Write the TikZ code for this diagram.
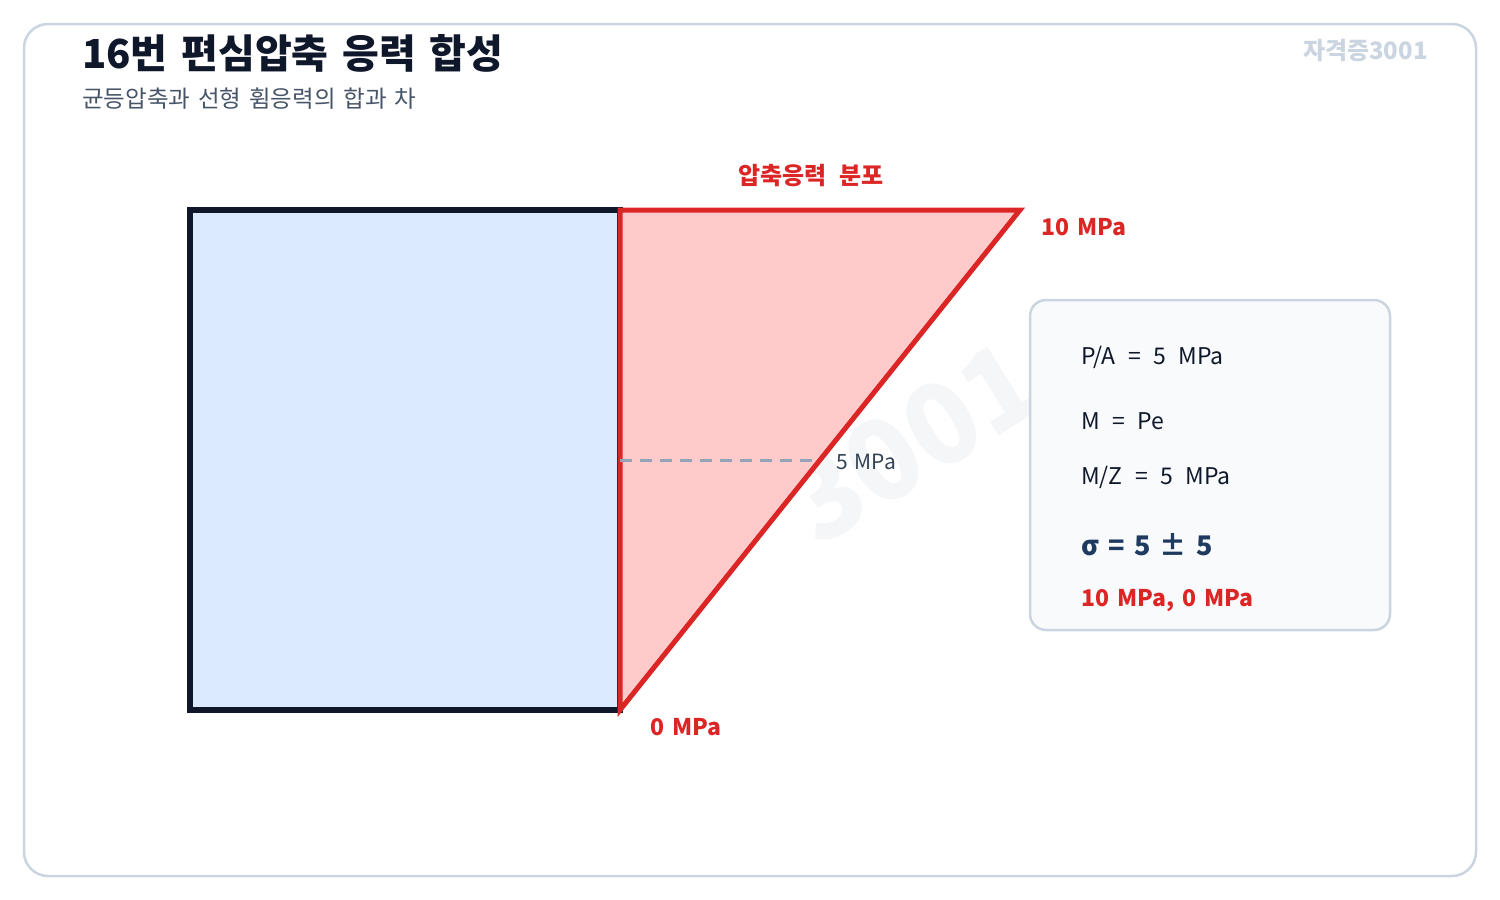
\documentclass[tikz,border=0pt]{standalone}
\usepackage{fontspec}
\setmainfont{Noto Sans CJK KR}[WordSpace=2.4]
\newfontfamily\tightsp{Noto Sans CJK KR}[WordSpace=1.5]
\definecolor{ink}{HTML}{0F172A}
\definecolor{subgray}{HTML}{475569}
\definecolor{frame}{HTML}{CBD5E1}
\definecolor{wmark}{HTML}{F4F6F8}
\definecolor{secfill}{HTML}{DBEAFE}
\definecolor{strred}{HTML}{DC2626}
\definecolor{strfill}{HTML}{FECACA}
\definecolor{dashgray}{HTML}{94A3B8}
\definecolor{lblgray}{HTML}{334155}
\definecolor{boxfill}{HTML}{F8FAFC}
\definecolor{navy}{HTML}{1E3A5F}
\begin{document}
\begin{tikzpicture}[x=1pt,y=-1pt,
txt/.style={inner sep=0pt,anchor=west},
redlbl/.style={txt,text=strred,font=\tightsp\bfseries\fontsize{23}{27}\selectfont},
eqn/.style={txt,text=ink,font=\fontsize{23}{27}\selectfont}
]
\useasboundingbox(0,0)rectangle(1500,900);
%% Frame
\draw[frame,line width=2.5pt,rounded corners=24pt](24,24)rectangle(1476,876);
\node[txt,text=ink,font=\tightsp\bfseries\fontsize{40}{46}\selectfont]at(82,53)(title){16번 편심압축 응력 합성};
\node[txt,text=subgray,font=\tightsp\fontsize{23.5}{27}\selectfont]at(82,99)(sub){균등압축과 선형 휨응력의 합과 차};
\node[inner sep=0pt,anchor=east,text=frame,font=\bfseries\fontsize{24}{28}\selectfont]at(1428,51)(wm){자격증3001};
%% Watermark
\node[inner sep=0pt,anchor=base east,rotate=32,text=wmark,font=\bfseries\fontsize{112}{116}\selectfont]at(1050,404)(bigwm){3001};
%% Section
\draw[ink,line width=6pt,fill=secfill](190,210)rectangle(620,710);
%% Stress block
\coordinate(top)at(620,210);
\coordinate(tip)at(1020,210);
\coordinate(bot)at(620,710);
\draw[strred,line width=5pt,fill=strfill](top)--(tip)--(bot)--cycle;
\node[redlbl,anchor=center,font=\bfseries\fontsize{24}{28}\selectfont]at(811,176)(head){압축응력 분포};
\node[redlbl]at(1041,227)(max){10 MPa};
\node[redlbl]at(650,727)(min){0 MPa};
%% Mid value
\coordinate(mid)at(620,460);
\coordinate(midr)at(820,460);
\draw[dashgray,line width=3pt,dash pattern=on 12pt off 8pt](mid)--(midr);
\node[txt,text=lblgray,font=\tightsp\fontsize{21}{25}\selectfont]at(836,462)(midl){5 MPa};
%% Result box
\draw[frame,line width=2.5pt,fill=boxfill,rounded corners=16pt](1030,300)rectangle(1390,630);
\node[eqn]at(1081,357)(pa){P/A = 5 MPa};
\node[eqn]at(1081,421)(mo){M = Pe};
\node[eqn]at(1081,477)(mz){M/Z = 5 MPa};
\node[txt,text=navy,font=\tightsp\bfseries\fontsize{27}{31}\selectfont]at(1081,545)(sig){σ = 5 ± 5};
\node[redlbl]at(1081,601)(res){10 MPa, 0 MPa};
\end{tikzpicture}
\end{document}
